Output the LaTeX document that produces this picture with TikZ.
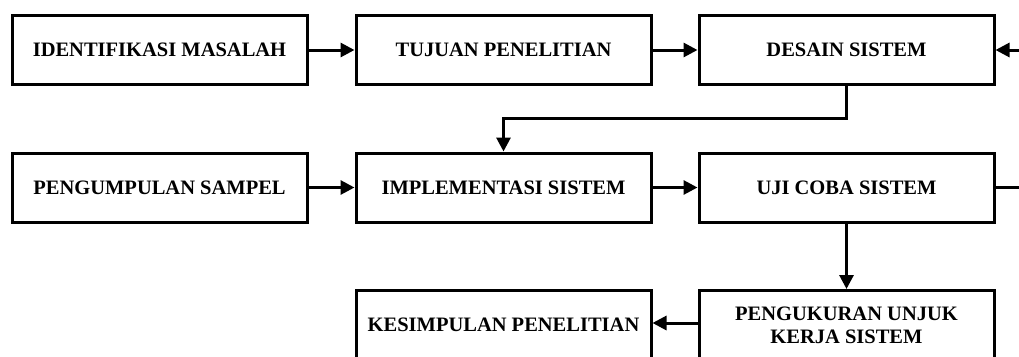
\documentclass[tikz,border=0pt]{standalone}
\usepackage{fontspec}
\setmainfont{Liberation Serif}
\usetikzlibrary{arrows.meta}
\begin{document}
\begin{tikzpicture}[x=1pt,y=-1pt,
  stepbox/.style={draw,line width=3pt,minimum width=295pt,minimum height=69pt,inner sep=0pt,align=center,
    font=\fontsize{20.5}{23}\selectfont\bfseries},
  arr/.style={line width=3pt,-{Triangle[length=14pt,width=14pt]}}]
\useasboundingbox (0,0) rectangle (1019,356);
\clip (0,0) rectangle (1019,356);
\node[stepbox] (idm) at (159.5,50) {IDENTIFIKASI MASALAH};
\node[stepbox] (tuj) at (503.5,50) {TUJUAN PENELITIAN};
\node[stepbox] (des) at (846.5,50) {DESAIN SISTEM};
\node[stepbox] (pgs) at (159.5,187.5) {PENGUMPULAN SAMPEL};
\node[stepbox] (imp) at (503.5,187.5) {IMPLEMENTASI SISTEM};
\node[stepbox] (uji) at (846.5,187.5) {UJI COBA SISTEM};
\node[stepbox] (kes) at (503.5,325) {KESIMPULAN PENELITIAN};
\node[stepbox] (pku) at (846.5,325) {PENGUKURAN UNJUK\\KERJA SISTEM};
\draw[arr] (idm) -- (tuj);
\draw[arr] (tuj) -- (des);
\draw[arr] (des.south) -- ++(0,32) -| (imp.north);
\draw[arr] (pgs) -- (imp);
\draw[arr] (imp) -- (uji);
\draw[arr] (uji.east) -- ++(40,0) |- (des.east);
\draw[arr] (uji.south) -- (pku.north);
\draw[arr] (pku.west) ++(0,-2) -- ([yshift=2pt]kes.east);
\end{tikzpicture}
\end{document}
